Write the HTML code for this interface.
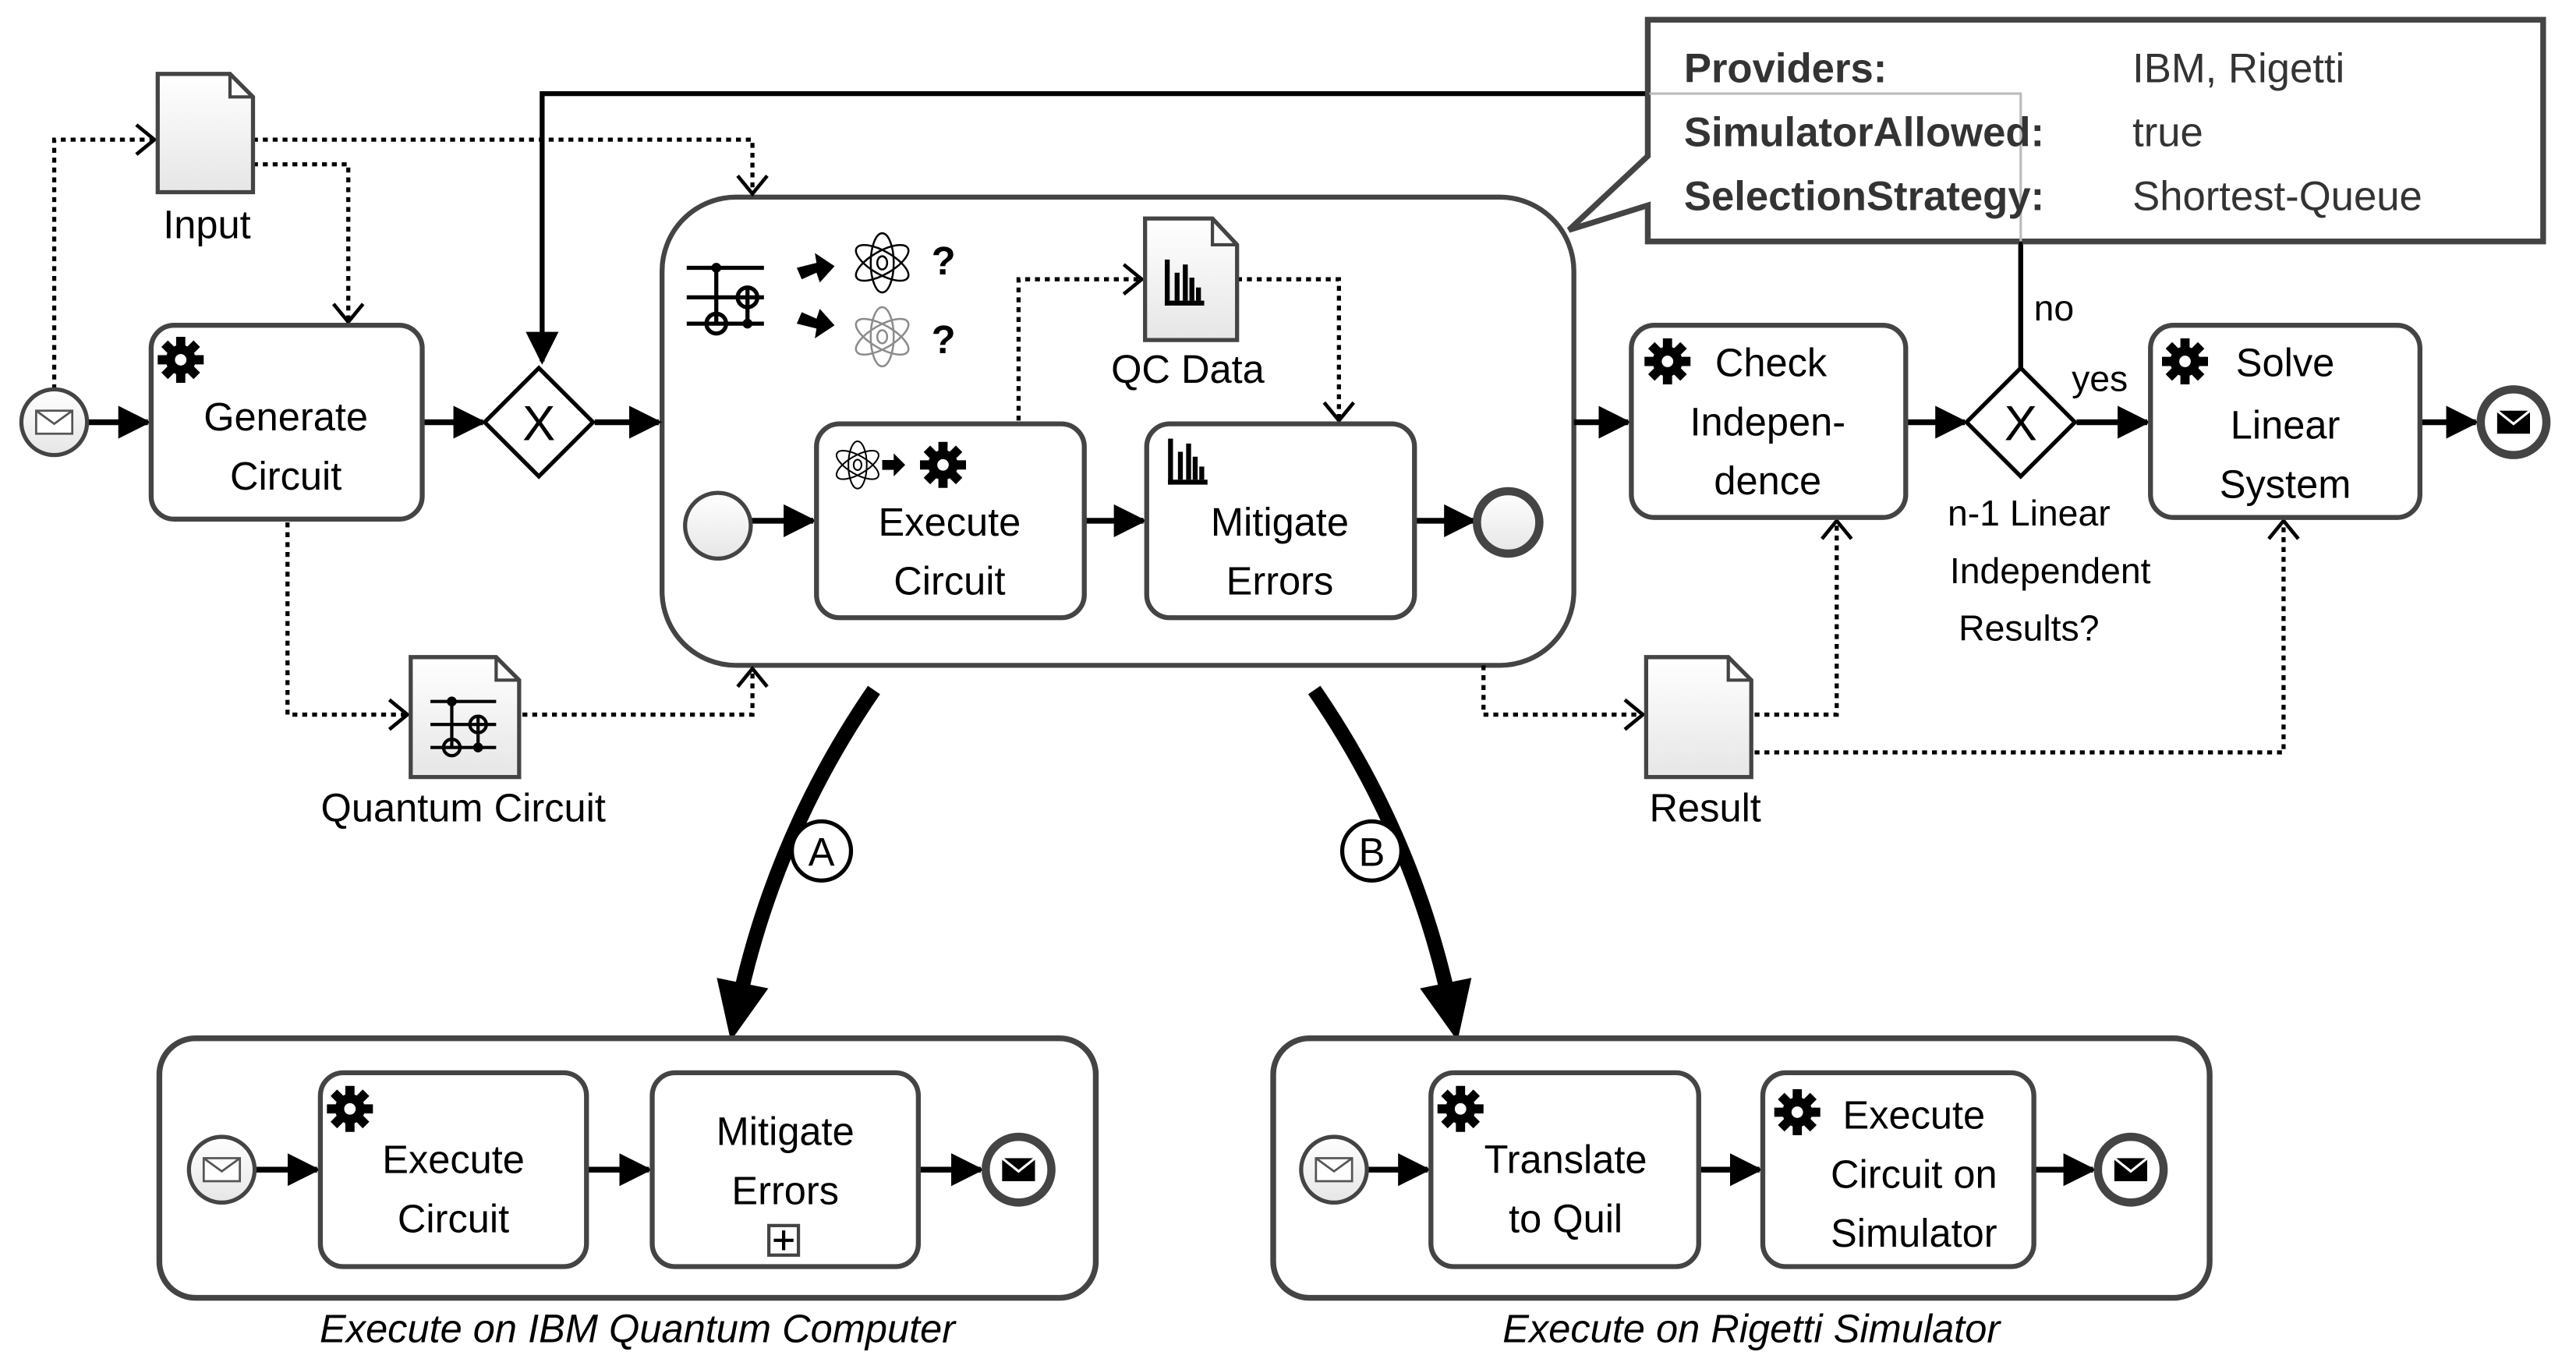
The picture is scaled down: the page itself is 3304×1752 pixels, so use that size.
<!DOCTYPE html>
<html><head><meta charset="utf-8"><style>
html,body{margin:0;padding:0;background:#fff;}
svg{display:block;}
text{font-family:"Liberation Sans",sans-serif;}
</style></head><body>
<svg width="3304" height="1752" viewBox="0 0 1568 831.5" preserveAspectRatio="none" xmlns="http://www.w3.org/2000/svg">
<defs>
<marker id="ahb" markerWidth="20" markerHeight="20" refX="18" refY="10" orient="auto" markerUnits="userSpaceOnUse" viewBox="0 0 20 20">
<path d="M0,0 L20,10 L0,20 z" fill="#000"/></marker>
<marker id="oa" markerWidth="14" markerHeight="20" refX="12" refY="10" orient="auto" markerUnits="userSpaceOnUse" viewBox="0 0 14 20">
<path d="M1,1 L12,10 L1,19" fill="none" stroke="#000" stroke-width="2.2"/></marker>
<marker id="big" markerWidth="40" markerHeight="40" refX="20" refY="20" orient="auto" markerUnits="userSpaceOnUse" viewBox="0 0 40 40">
<path d="M0,4 L36,20 L0,36 z" fill="#000"/></marker>
<linearGradient id="g" x1="0" y1="0" x2="0" y2="1"><stop offset="0" stop-color="#fff"/><stop offset="1" stop-color="#e6e6e6"/></linearGradient>
<g id="gear0"><circle r="6.5" fill="#000"/><g stroke="#000" stroke-width="4"><line x1="0" y1="-10" x2="0" y2="10"/><line x1="-10" y1="0" x2="10" y2="0"/><line x1="-7" y1="-7" x2="7" y2="7"/><line x1="-7" y1="7" x2="7" y2="-7"/></g><circle r="2.5" fill="#fff"/></g>
<g id="gear"><use href="#gear0" transform="scale(1.4)"/></g>
<g id="env"><rect x="-11" y="-7" width="22" height="14" fill="#fff" stroke="#555" stroke-width="1.3"/><path d="M-11,-7 L0,1 L11,-7" fill="none" stroke="#555" stroke-width="1.3"/></g>
<g id="envb"><rect x="-10" y="-7" width="20" height="14" fill="#000"/><path d="M-10,-7 L0,1 L10,-7" fill="none" stroke="#fff" stroke-width="1.5"/></g>
<g id="atom" fill="none" stroke="#000" stroke-width="1.2"><ellipse rx="7" ry="18"/><ellipse rx="7" ry="18" transform="rotate(60)"/><ellipse rx="7" ry="18" transform="rotate(-60)"/><ellipse rx="3" ry="4"/></g>
<g id="bars" fill="#000"><rect x="0" y="0" width="3" height="28"/><rect x="0" y="25" width="24" height="3"/><rect x="6" y="8" width="3" height="17"/><rect x="11" y="3" width="3" height="22"/><rect x="15" y="11" width="3" height="14"/><rect x="19" y="17" width="3" height="8"/></g>
</defs>

<rect x="403" y="120" width="555" height="285" rx="45" fill="#fff" stroke="#444" stroke-width="3"/>

<polyline points="1230,224 1230,57 330,57 330,220" fill="none" stroke="#000" stroke-width="3" marker-end="url(#ahb)"/>

<g fill="none" stroke="#000" stroke-width="2.5" stroke-dasharray="3,3">
<polyline points="33,237 33,85 94,85" marker-end="url(#oa)"/>
<polyline points="154,85 458,85 458,118" marker-end="url(#oa)"/>
<polyline points="154,100 212,100 212,196" marker-end="url(#oa)"/>
<polyline points="175,318 175,435 248,435" marker-end="url(#oa)"/>
<polyline points="318,435 458,435 458,407" marker-end="url(#oa)"/>
<polyline points="903,405 903,435 1000,435" marker-end="url(#oa)"/>
<polyline points="1068,435 1118,435 1118,317" marker-end="url(#oa)"/>
<polyline points="1068,458 1390,458 1390,317" marker-end="url(#oa)"/>
<polyline points="620,256 620,170 695,170" marker-end="url(#oa)"/>
<polyline points="753,170 815,170 815,256" marker-end="url(#oa)"/>
</g>

<g stroke="#000" stroke-width="3.5" fill="none">
<line x1="53" y1="257" x2="90" y2="257" marker-end="url(#ahb)"/>
<line x1="257" y1="257" x2="294" y2="257" marker-end="url(#ahb)"/>
<line x1="362" y1="257" x2="401" y2="257" marker-end="url(#ahb)"/>
<line x1="958" y1="257" x2="991" y2="257" marker-end="url(#ahb)"/>
<line x1="1160" y1="257" x2="1196" y2="257" marker-end="url(#ahb)"/>
<line x1="1264" y1="257" x2="1307" y2="257" marker-end="url(#ahb)"/>
<line x1="1473" y1="257" x2="1507" y2="257" marker-end="url(#ahb)"/>
<line x1="457" y1="317" x2="495" y2="317" marker-end="url(#ahb)"/>
<line x1="660" y1="317" x2="696" y2="317" marker-end="url(#ahb)"/>
<line x1="861" y1="317" x2="897" y2="317" marker-end="url(#ahb)"/>
<line x1="155" y1="712" x2="193" y2="712" marker-end="url(#ahb)"/>
<line x1="357" y1="712" x2="395" y2="712" marker-end="url(#ahb)"/>
<line x1="559" y1="712" x2="597" y2="712" marker-end="url(#ahb)"/>
<line x1="832" y1="712" x2="869" y2="712" marker-end="url(#ahb)"/>
<line x1="1034" y1="712" x2="1071" y2="712" marker-end="url(#ahb)"/>
<line x1="1238" y1="712" x2="1274" y2="712" marker-end="url(#ahb)"/>
</g>

<circle cx="33" cy="257" r="20" fill="url(#g)" stroke="#444" stroke-width="2.5"/><use href="#env" x="33" y="257"/>
<circle cx="1530" cy="257" r="20" fill="#fff" stroke="#444" stroke-width="5"/><use href="#envb" x="1530" y="257"/>

<rect x="92" y="198" width="165" height="118" rx="14" fill="#fff" stroke="#444" stroke-width="3"/>
<use href="#gear" x="110" y="219"/>
<text x="174" y="262" font-size="24" text-anchor="middle">Generate</text>
<text x="174" y="298" font-size="24" text-anchor="middle">Circuit</text>

<g fill="#fff" stroke="#000" stroke-width="2.5">
<polygon points="328,224 361,257 328,290 295,257"/>
<polygon points="1230,224 1263,257 1230,290 1197,257"/>
</g>
<text x="328" y="268" font-size="30" text-anchor="middle">X</text>
<text x="1230" y="268" font-size="30" text-anchor="middle">X</text>

<g stroke="#000" stroke-width="2.5" fill="none">
<line x1="418" y1="163" x2="465" y2="163"/><line x1="418" y1="181" x2="465" y2="181"/><line x1="418" y1="197" x2="465" y2="197"/>
<line x1="436" y1="163" x2="436" y2="197"/><line x1="455" y1="174" x2="455" y2="197"/>
<circle cx="455" cy="181" r="6"/><circle cx="436" cy="197" r="6"/>
</g>
<circle cx="436" cy="163" r="3" fill="#000"/><circle cx="455" cy="197" r="3" fill="#000"/>
<path d="M485,163 L497,160 L496,154 L508,162 L499,172 L497,166 L488,170 z" fill="#000"/>
<path d="M485,197 L497,200 L496,206 L508,198 L499,188 L497,194 L488,190 z" fill="#000"/>
<use href="#atom" x="537" y="160"/>
<use href="#atom" x="537" y="205" opacity="0.45"/>
<text x="567" y="167" font-size="24" font-weight="bold">?</text>
<text x="567" y="215" font-size="24" font-weight="bold">?</text>

<path d="M697,133 L738,133 L753,149 L753,207 L697,207 z" fill="url(#g)" stroke="#444" stroke-width="2.5"/>
<path d="M738,133 L738,149 L753,149" fill="none" stroke="#444" stroke-width="2"/>
<use href="#bars" x="709" y="158"/>
<text x="723" y="233" font-size="24" text-anchor="middle">QC Data</text>

<circle cx="437" cy="320" r="20" fill="url(#g)" stroke="#444" stroke-width="2.5"/>
<circle cx="918" cy="318" r="19" fill="url(#g)" stroke="#444" stroke-width="5"/>

<rect x="497" y="258" width="163" height="118" rx="14" fill="#fff" stroke="#444" stroke-width="3"/>
<g transform="translate(522,283) scale(0.8)"><use href="#atom"/></g>
<path d="M537,280 L544,280 L544,276 L551,283 L544,290 L544,286 L537,286 z" fill="#000"/>
<use href="#gear" x="574" y="283"/>
<text x="578" y="326" font-size="24" text-anchor="middle">Execute</text>
<text x="578" y="362" font-size="24" text-anchor="middle">Circuit</text>

<rect x="698" y="258" width="163" height="118" rx="14" fill="#fff" stroke="#444" stroke-width="3"/>
<use href="#bars" x="711" y="267"/>
<text x="779" y="326" font-size="24" text-anchor="middle">Mitigate</text>
<text x="779" y="362" font-size="24" text-anchor="middle">Errors</text>

<path d="M96,45 L140,45 L154,59 L154,117 L96,117 z" fill="url(#g)" stroke="#444" stroke-width="2.5"/>
<path d="M140,45 L140,59 L154,59" fill="none" stroke="#444" stroke-width="2"/>
<text x="126" y="145" font-size="24" text-anchor="middle">Input</text>

<path d="M250,400 L302,400 L316,414 L316,473 L250,473 z" fill="url(#g)" stroke="#444" stroke-width="2.5"/>
<path d="M302,400 L302,414 L316,414" fill="none" stroke="#444" stroke-width="2"/>
<g stroke="#000" stroke-width="2" fill="none">
<line x1="262" y1="427" x2="302" y2="427"/><line x1="262" y1="441" x2="302" y2="441"/><line x1="262" y1="455" x2="302" y2="455"/>
<line x1="275" y1="427" x2="275" y2="455"/><line x1="291" y1="436" x2="291" y2="455"/>
<circle cx="291" cy="441" r="5"/><circle cx="275" cy="455" r="5"/></g>
<circle cx="275" cy="427" r="3" fill="#000"/><circle cx="291" cy="455" r="3" fill="#000"/>
<text x="282" y="500" font-size="24" text-anchor="middle">Quantum Circuit</text>

<path d="M1002,400 L1052,400 L1066,414 L1066,473 L1002,473 z" fill="url(#g)" stroke="#444" stroke-width="2.5"/>
<path d="M1052,400 L1052,414 L1066,414" fill="none" stroke="#444" stroke-width="2"/>
<text x="1038" y="500" font-size="24" text-anchor="middle">Result</text>

<rect x="993" y="198" width="167" height="117" rx="14" fill="#fff" stroke="#444" stroke-width="3"/>
<use href="#gear" x="1015" y="220"/>
<text x="1078" y="229" font-size="24" text-anchor="middle">Check</text>
<text x="1076" y="265" font-size="24" text-anchor="middle">Indepen-</text>
<text x="1076" y="301" font-size="24" text-anchor="middle">dence</text>

<rect x="1309" y="198" width="164" height="117" rx="14" fill="#fff" stroke="#444" stroke-width="3"/>
<use href="#gear" x="1330" y="220"/>
<text x="1391" y="229" font-size="24" text-anchor="middle">Solve</text>
<text x="1391" y="267" font-size="24" text-anchor="middle">Linear</text>
<text x="1391" y="303" font-size="24" text-anchor="middle">System</text>

<text x="1238" y="195" font-size="22">no</text>
<text x="1261" y="238" font-size="22">yes</text>
<text x="1235" y="320" font-size="22" text-anchor="middle">n-1 Linear</text>
<text x="1248" y="355" font-size="22" text-anchor="middle">Independent</text>
<text x="1235" y="390" font-size="22" text-anchor="middle">Results?</text>

<path d="M1003,12 L1548,12 L1548,147 L1003,147 L1003,125 L955,140 L1003,95 z" fill="#fff" stroke="#444" stroke-width="3.5"/>
<polyline points="1004,57 1230,57 1230,147" fill="none" stroke="#bbb" stroke-width="1.5"/>
<line x1="1230" y1="147" x2="1230" y2="224" stroke="#000" stroke-width="2"/>
<g font-size="25" fill="#333">
<text x="1025" y="50" font-weight="bold">Providers:</text>
<text x="1025" y="89" font-weight="bold">SimulatorAllowed:</text>
<text x="1025" y="128" font-weight="bold">SelectionStrategy:</text>
<text x="1298" y="50">IBM, Rigetti</text>
<text x="1298" y="89">true</text>
<text x="1298" y="128">Shortest-Queue</text>
</g>

<path d="M532,420 Q470,510 448,618" fill="none" stroke="#000" stroke-width="9" marker-end="url(#big)"/>
<path d="M800,420 Q862,510 884,618" fill="none" stroke="#000" stroke-width="9" marker-end="url(#big)"/>
<circle cx="500" cy="518" r="18" fill="#fff" stroke="#000" stroke-width="2.5"/>
<text x="500" y="527" font-size="24" text-anchor="middle">A</text>
<circle cx="835" cy="518" r="18" fill="#fff" stroke="#000" stroke-width="2.5"/>
<text x="835" y="527" font-size="24" text-anchor="middle">B</text>

<rect x="97" y="632" width="570" height="158" rx="22" fill="none" stroke="#444" stroke-width="3.5"/>
<circle cx="135" cy="712" r="20" fill="url(#g)" stroke="#444" stroke-width="2.5"/><use href="#env" x="135" y="712"/>
<rect x="195" y="653" width="162" height="118" rx="14" fill="#fff" stroke="#444" stroke-width="3"/>
<use href="#gear" x="213" y="675"/>
<text x="276" y="714" font-size="24" text-anchor="middle">Execute</text>
<text x="276" y="750" font-size="24" text-anchor="middle">Circuit</text>
<rect x="397" y="653" width="162" height="118" rx="14" fill="#fff" stroke="#444" stroke-width="3"/>
<text x="478" y="697" font-size="24" text-anchor="middle">Mitigate</text>
<text x="478" y="733" font-size="24" text-anchor="middle">Errors</text>
<rect x="468" y="746" width="18" height="18" fill="#fff" stroke="#444" stroke-width="2"/>
<path d="M477,749 V761 M471,755 H483" stroke="#000" stroke-width="2"/>
<circle cx="620" cy="712" r="20" fill="#fff" stroke="#444" stroke-width="5"/><use href="#envb" x="620" y="712"/>
<text x="388" y="817" font-size="24" font-style="italic" text-anchor="middle">Execute on IBM Quantum Computer</text>

<rect x="775" y="632" width="570" height="158" rx="22" fill="none" stroke="#444" stroke-width="3.5"/>
<circle cx="812" cy="712" r="20" fill="url(#g)" stroke="#444" stroke-width="2.5"/><use href="#env" x="812" y="712"/>
<rect x="871" y="653" width="163" height="118" rx="14" fill="#fff" stroke="#444" stroke-width="3"/>
<use href="#gear" x="889" y="675"/>
<text x="953" y="714" font-size="24" text-anchor="middle">Translate</text>
<text x="953" y="750" font-size="24" text-anchor="middle">to Quil</text>
<rect x="1073" y="653" width="165" height="118" rx="14" fill="#fff" stroke="#444" stroke-width="3"/>
<use href="#gear" x="1094" y="677"/>
<text x="1165" y="687" font-size="24" text-anchor="middle">Execute</text>
<text x="1165" y="723" font-size="24" text-anchor="middle">Circuit on</text>
<text x="1165" y="759" font-size="24" text-anchor="middle">Simulator</text>
<circle cx="1297" cy="712" r="20" fill="#fff" stroke="#444" stroke-width="5"/><use href="#envb" x="1297" y="712"/>
<text x="1066" y="817" font-size="24" font-style="italic" text-anchor="middle">Execute on Rigetti Simulator</text>
</svg>
</body></html>
